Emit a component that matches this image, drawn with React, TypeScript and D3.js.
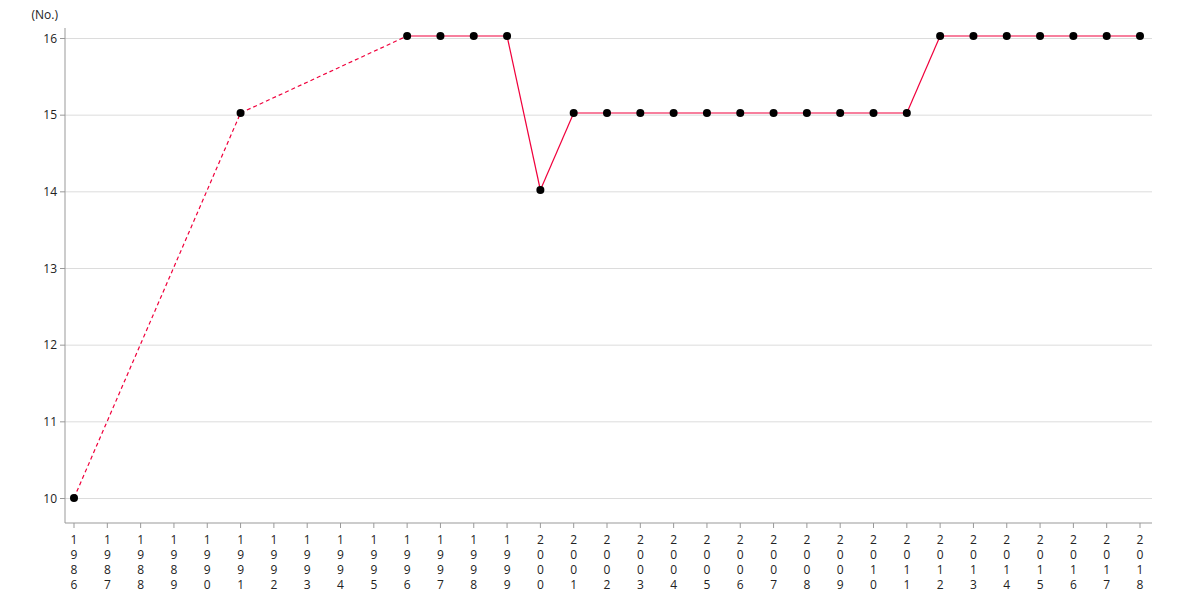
import React from "react";
import * as d3 from "d3";

const years = [1986, 1991, 1996, 1997, 1998, 1999, 2000, 2001, 2002, 2003, 2004, 2005, 2006, 2007, 2008, 2009, 2010, 2011, 2012, 2013, 2014, 2015, 2016, 2017, 2018];
const values = [10, 15, 16, 16, 16, 16, 14, 15, 15, 15, 15, 15, 15, 15, 15, 15, 15, 15, 16, 16, 16, 16, 16, 16, 16];
const allYears = d3.range(1986, 2019);
const yTicks = [10, 11, 12, 13, 14, 15, 16];
const unitLabel = "(No.)";

export default function App() {
  const W = 1180, H = 600;
  const left = 65, right = 1152, top = 28, bottom = 523;
  const x = d3.scalePoint<number>().domain(allYears).range([74, 1140]);
  const y = d3.scaleLinear().domain([10, 16]).range([498, 36]);
  const yAxis = d3.scaleLinear().domain([10, 16]).range([498.5, 38.5]);
  const font = "'Open Sans', 'Noto Sans', sans-serif";
  const segs: { a: number; b: number; dashed: boolean }[] = [];
  for (let i = 0; i < years.length - 1; i++) {
    segs.push({ a: i, b: i + 1, dashed: years[i + 1] - years[i] > 1 });
  }
  const red = "#f0003c";
  return (
    <svg width={W} height={H} style={{ position: "absolute", left: 0, top: 0 }} fontFamily={font}>
      <rect width={W} height={H} fill="#fff" />
      {yTicks.map((t) => (
        <g key={t}>
          <line x1={left} x2={right} y1={yAxis(t)} y2={yAxis(t)} stroke="#dcdcdc" strokeWidth={1} />
          <line x1={left - 5} x2={left} y1={yAxis(t)} y2={yAxis(t)} stroke="#999" />
          <text x={left - 8} y={yAxis(t)} dy="0.35em" textAnchor="end" fontSize={12} fill="#222">{t}</text>
        </g>
      ))}
      <text x={58} y={19} textAnchor="end" fontSize={12} fill="#222">{unitLabel}</text>
      <line x1={left} x2={left} y1={top} y2={bottom} stroke="#999" />
      <line x1={left} x2={right} y1={bottom} y2={bottom} stroke="#999" />
      {allYears.map((yr) => (
        <g key={yr} transform={`translate(${x(yr)},0)`}>
          <line y1={bottom} y2={bottom + 5} stroke="#999" />
          {String(yr).split("").map((c, i) => (
            <text key={i} x={0} y={544 + i * 15} textAnchor="middle" fontSize={12} fill="#222">{c}</text>
          ))}
        </g>
      ))}
      {segs.map((s, i) => (
        <line key={i} x1={x(years[s.a])} y1={y(values[s.a])} x2={x(years[s.b])} y2={y(values[s.b])}
          stroke={red} strokeWidth={1.2} strokeDasharray={s.dashed ? "4,3" : undefined} />
      ))}
      {years.map((yr, i) => (
        <circle key={yr} cx={x(yr)} cy={y(values[i])} r={4} fill="#000" />
      ))}
    </svg>
  );
}
